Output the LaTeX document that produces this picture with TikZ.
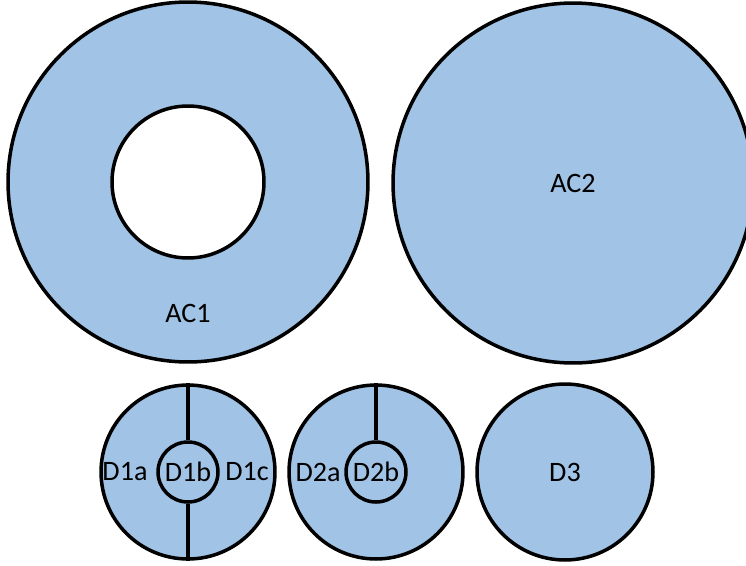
\documentclass[tikz,border=0pt]{standalone}
\usepackage{fontspec}
\setmainfont{Carlito}
\definecolor{zoneblue}{RGB}{161,195,230}

\begin{document}
\begin{tikzpicture}[x=0.02cm, y=-0.02cm, line width=2pt, font=\fontsize{16}{19}\selectfont,
	zone/.style={circle, draw, fill=zoneblue, inner sep=0pt},
	hole/.style={circle, draw, fill=white, inner sep=0pt},
	part/.style={circle, draw, fill=zoneblue, inner sep=0pt, minimum size=1.2cm}]
	\useasboundingbox (0,0) rectangle (746,565);
	% big zones
	\node[zone, minimum size=7.2cm] (ac1) at (188,182) {};
	\node[hole, minimum size=3.04cm] (ac1hole) at (188,182) {};
	\node (ac1lab) at (188,313) {AC1};
	\node[zone, minimum size=7.2cm] (ac2) at (573,183) {AC2};

	% small zones
	\node[zone, minimum size=3.48cm] (d1) at (188,472) {};
	\node[part] (d1b) at (188,472) {D1b};
	\node (d1a) at (125,472) {D1a};
	\node (d1c) at (247,472) {D1c};

	\node[zone, minimum size=3.48cm] (d2) at (376,472) {};
	\node[part] (d2b) at (376,472) {D2b};
	\node (d2a) at (318,472) {D2a};

	\node[zone, minimum size=3.52cm] (d3) at (565,472) {D3};

	% dividers
	\draw (d1.north) -- (d1b.north);
	\draw (d1b.south) -- (d1.south);
	\draw (d2.north) -- (d2b.north);
\end{tikzpicture}
\end{document}
